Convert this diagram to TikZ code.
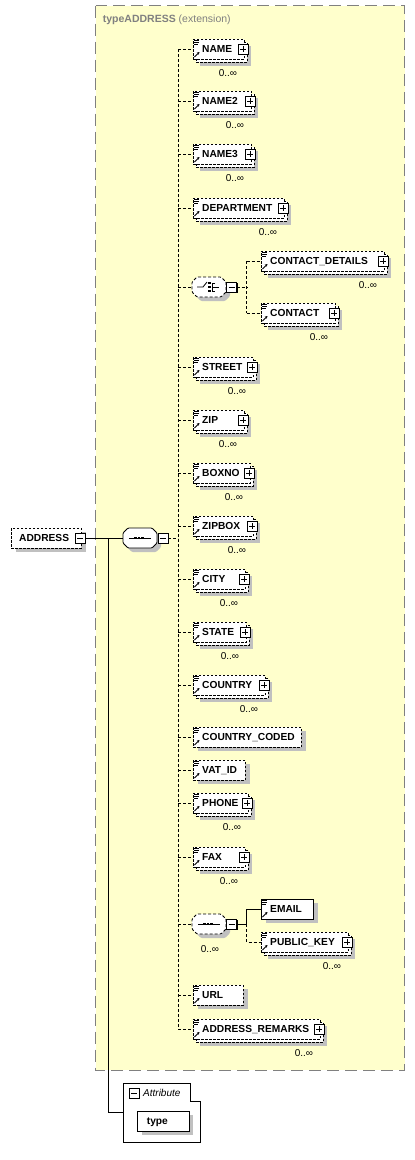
\documentclass[tikz,border=0pt]{standalone}
\usepackage{fontspec}
\setmainfont{Liberation Sans}
\usetikzlibrary{arrows.meta}
\definecolor{ybg}{RGB}{255,255,204}
\definecolor{ybord}{RGB}{128,128,128}
\definecolor{shd}{RGB}{192,192,192}
\tikzset{
  conn/.style={line width=0.8pt, dash pattern=on 3pt off 2pt},
  solidconn/.style={line width=0.8pt},
  boxdash/.style={draw, line width=0.8pt, dash pattern=on 2.5pt off 1.5pt, fill=white},
  boxsolid/.style={draw, line width=0.8pt, fill=white},
  anchorbox/.style={inner sep=0pt, outer sep=0pt, minimum height=20pt},
  nametext/.style={font=\bfseries\fontsize{10.2}{12}\selectfont, inner sep=0pt, anchor=base west},
  multtext/.style={font=\fontsize{10}{12}\selectfont, inner sep=0pt, anchor=base},
  smallbox/.style={draw, line width=0.8pt, fill=white, minimum size=10pt, inner sep=0pt, outer sep=0pt},
}
\newcommand\plusbox[3]{% id x y
  \fill[black] (#2-4,#3-4) rectangle (#2+6,#3+6);
  \node[smallbox] (#1) at (#2,#3) {};
  \draw[line width=0.8pt] (#2-3,#3) -- (#2+3,#3) (#2,#3-3) -- (#2,#3+3);
}
\newcommand\minusbox[3]{% id x y
  \fill[black] (#2-4,#3-4) rectangle (#2+6,#3+6);
  \node[smallbox] (#1) at (#2,#3) {};
  \draw[line width=0.8pt] (#2-3,#3) -- (#2+3,#3);
}
\newcommand\elicons[2]{% x0 yc
  \draw[line width=0.7pt] (#1+1,#2-8.5) -- (#1+6,#2-8.5) (#1+1,#2-6.5) -- (#1+6,#2-6.5) (#1+1,#2-4.5) -- (#1+5,#2-4.5);
  \draw[line width=0.9pt, -{Stealth[length=2.6pt,width=2.8pt]}] (#1+1.5,#2+8) -- (#1+6.5,#2+3);
}
\newcommand\repel[5]{% id text x0 x1 yc
  \pgfmathsetmacro\ew{#4-#3}
  \fill[shd] (#3+7,#5-3) rectangle (#4+7,#5+17);
  \path[boxdash] (#3+3,#5-7) rectangle (#4+3,#5+13);
  \node[boxdash, anchorbox, minimum width=\ew pt, anchor=west] (#1) at (#3,#5) {};
  \elicons{#3}{#5}
  \node[nametext] (#1-t) at (#3+9,#5+3.5) {#2};
  \plusbox{#1-p}{#4-1}{#5}
  \node[multtext] (#1-m) at (#4-16,#5+27) {0..∞};
}
\newcommand\oneel[6]{% id text x0 x1 yc style
  \pgfmathsetmacro\ew{#4-#3}
  \fill[shd] (#3+4.5,#5-6) rectangle (#4+4.5,#5+14);
  \node[#6, anchorbox, minimum width=\ew pt, anchor=west] (#1) at (#3,#5) {};
  \elicons{#3}{#5}
  \node[nametext] (#1-t) at (#3+9,#5+3.5) {#2};
}
\newcommand\octpath[3]{(#1+5,#3-10) -- (#2-5,#3-10) -- (#2,#3-5) -- (#2,#3+5) -- (#2-5,#3+10) -- (#1+5,#3+10) -- (#1,#3+5) -- (#1,#3-5) -- cycle}
\newcommand\octa[5]{% id x0 x1 yc style
  \pgfmathsetmacro\ew{#3-#2}
  \pgfmathsetmacro\cx{(#2+#3)/2}
  \fill[shd, rounded corners=1pt] (#2+9,#4-6) -- (#3-1,#4-6) -- (#3+4,#4-1) -- (#3+4,#4+9) -- (#3-1,#4+14) -- (#2+9,#4+14) -- (#2+4,#4+9) -- (#2+4,#4-1) -- cycle;
  \draw[#5, fill=white, rounded corners=1pt] (#2+5,#4-10) -- (#3-5,#4-10) -- (#3,#4-5) -- (#3,#4+5) -- (#3-5,#4+10) -- (#2+5,#4+10) -- (#2,#4+5) -- (#2,#4-5) -- cycle;
  \node[anchorbox, minimum width=\ew pt] (#1) at (\cx,#4) {};
}
\newcommand\seqicon[2]{% cx yc
  \draw[line width=0.8pt] (#1-11,#2) -- (#1+11,#2);
  \fill (#1-5.6,#2-1.2) rectangle (#1-3.2,#2+1.2);
  \fill (#1-2.2,#2-1.2) rectangle (#1+0.2,#2+1.2);
  \fill (#1+1.2,#2-1.2) rectangle (#1+3.6,#2+1.2);
}
\newcommand\choiceicon[2]{% cx yc
  \draw[line width=0.8pt] (#1-12,#2) -- (#1-6,#2) -- (#1-2,#2-5);
  \fill (#1-0.7,#2-5.2) rectangle (#1+1.7,#2-2.8);
  \fill (#1-0.7,#2-1.2) rectangle (#1+1.7,#2+1.2);
  \fill (#1-0.7,#2+2.8) rectangle (#1+1.7,#2+5.2);
  \draw[line width=0.7pt] (#1+6,#2-4) -- (#1+3.5,#2-4) -- (#1+3.5,#2+4) -- (#1+6,#2+4) (#1+3.5,#2) -- (#1+10,#2);
}
\begin{document}
\begin{tikzpicture}[x=1pt,y=-1pt]
\useasboundingbox (0,0) rectangle (415,1160);
% extension area
\fill[ybg] (95.5,5.5) rectangle (404.5,1070);
\draw[ybord, line width=1pt, dash pattern=on 12pt off 6pt] (95.5,5.5) rectangle (404.5,1070);
\node[anchor=base west, inner sep=0pt, text=ybord, font=\fontsize{10.5}{12}\selectfont] (title) at (102.7,22.8) {\textbf{typeADDRESS} (extension)};
% root
\fill[shd] (15.5,532) rectangle (85.5,552);
\node[boxdash, anchorbox, minimum width=70pt, anchor=west] (ADDRESS) at (11,538) {};
\node[nametext] (ADDRESS-t) at (19,541.5) {ADDRESS};
\minusbox{addrm}{80}{538}
% main sequence
\octa{seqm}{123}{157}{538}{solidconn}
\seqicon{140}{538}
\minusbox{seqmm}{163}{538}
% children
\repel{NAME}{NAME}{193}{244}{49}
\repel{NAMEb}{NAME2}{193}{251}{101}
\repel{NAMEc}{NAME3}{193}{251}{154}
\repel{DEPT}{DEPARTMENT}{193}{284}{208}
\octa{cho}{192}{226}{287}{conn}
\choiceicon{209}{287}
\minusbox{chom}{231.5}{287}
\repel{CDET}{CONTACT\_DETAILS}{261}{384}{261}
\repel{CONTACT}{CONTACT}{261}{335}{313}
\repel{STREET}{STREET}{193}{253}{367}
\repel{ZIP}{ZIP}{193}{244}{420}
\repel{BOXNO}{BOXNO}{193}{250}{473}
\repel{ZIPBOX}{ZIPBOX}{193}{253}{526}
\repel{CITY}{CITY}{193}{245}{579}
\repel{STATE}{STATE}{193}{246}{632}
\repel{COUNTRY}{COUNTRY}{193}{265}{685}
\oneel{CCODED}{COUNTRY\_CODED}{193}{301}{737}{boxdash}
\oneel{VATID}{VAT\_ID}{193}{245}{770}{boxdash}
\repel{PHONE}{PHONE}{193}{248}{803}
\repel{FAX}{FAX}{193}{245}{857}
\octa{seqb}{192}{226}{924}{conn}
\seqicon{209}{924}
\minusbox{seqbm}{231.5}{924}
\node[multtext] (seqb-m) at (210,952) {0..∞};
\oneel{EMAIL}{EMAIL}{261}{313}{909}{boxsolid}
\repel{PKEY}{PUBLIC\_KEY}{261}{348}{942}
\oneel{URL}{URL}{193}{243}{995}{boxdash}
\repel{AREM}{ADDRESS\_REMARKS}{193}{320}{1029}
% attributes
\draw[line width=0.8pt, fill=white] (123,1083) -- (190.7,1083) -- (190.7,1101.7) -- (200,1101.7) -- (200,1142) -- (123,1142) -- cycle;
\node[inner sep=0pt, minimum width=77pt, minimum height=59pt, anchor=north west] (attrs) at (123,1083) {};
\minusbox{attrm}{134}{1093}
\node[anchor=base west, inner sep=0pt, font=\itshape\fontsize{10}{12}\selectfont] (attr-t) at (143,1096.5) {Attribute};
\fill[shd] (141.7,1115) rectangle (193,1135);
\node[boxsolid, anchorbox, minimum width=51.3pt, anchor=west] (type) at (137.7,1121) {};
\node[nametext] (type-t) at (146.7,1124.5) {type};
% connectors
\coordinate (busx) at (178,0);
\coordinate (bus2) at (246.7,0);
\coordinate (jn) at (108,538);
\coordinate (attrin) at (123,1112.7);
\draw[solidconn] (addrm.east) -- (seqm.west);
\draw[solidconn] (jn) |- (attrin);
\draw[conn] (seqmm.east) -- (seqmm.east -| busx);
\draw[conn] (busx |- NAME.west) -- (busx |- AREM.west);
\foreach \c in {NAME,NAMEb,NAMEc,DEPT,cho,STREET,ZIP,BOXNO,ZIPBOX,CITY,STATE,COUNTRY,CCODED,VATID,PHONE,FAX,seqb,URL,AREM}
  \draw[conn] (busx |- \c.west) -- (\c.west);
\draw[conn] (chom.east) -- (chom.east -| bus2);
\draw[conn] (bus2 |- CDET.west) -- (bus2 |- CONTACT.west);
\draw[conn] (bus2 |- CDET.west) -- (CDET.west);
\draw[conn] (bus2 |- CONTACT.west) -- (CONTACT.west);
\draw[solidconn] (seqbm.east) -- (seqbm.east -| bus2) -- (bus2 |- EMAIL.west) -- (EMAIL.west);
\draw[conn] (seqbm.east -| bus2) -- (bus2 |- PKEY.west) -- (PKEY.west);
\end{tikzpicture}
\end{document}
